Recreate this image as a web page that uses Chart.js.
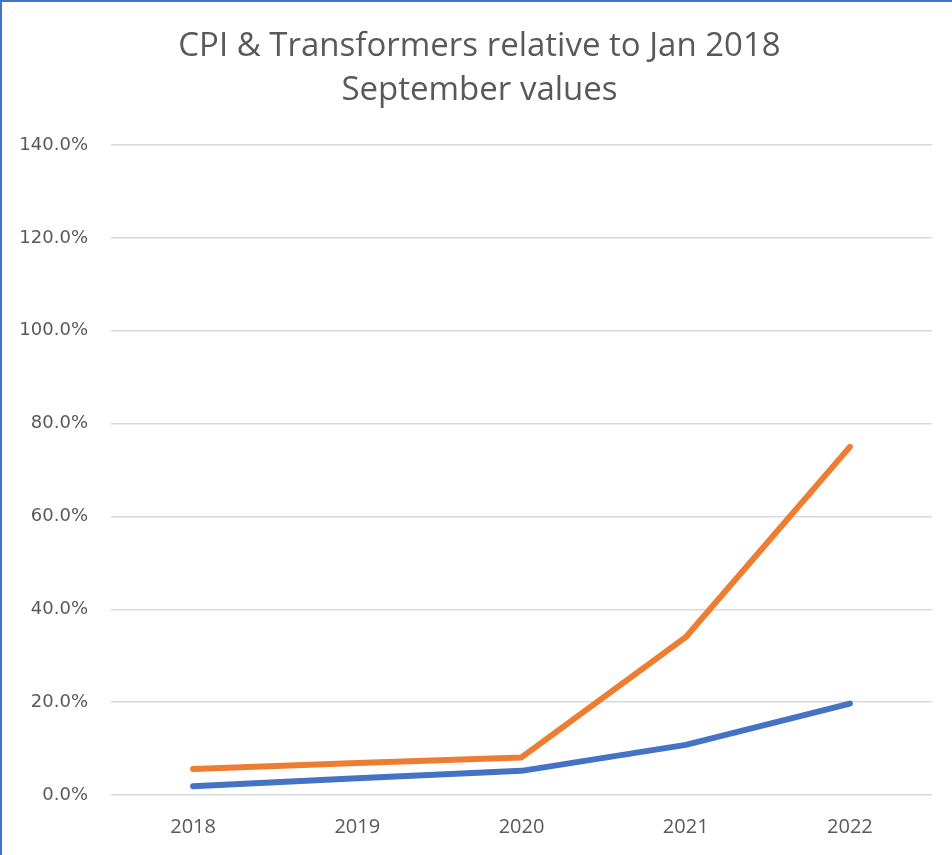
<!DOCTYPE html>
<html>
<head>
<meta charset="utf-8">
<script src="https://cdn.jsdelivr.net/npm/chart.js@4.4.1/dist/chart.umd.min.js"></script>
<style>
    html, body { margin: 0; padding: 0; background: #ffffff; }
    .frame {
        position: relative;
        width: 952px;
        height: 855px;
        box-sizing: border-box;
        border-top: 2px solid #4472C4;
        border-left: 2px solid #4472C4;
        overflow: hidden;
    }
    .frame canvas { position: absolute; left: -2px; top: -2px; }
</style>
</head>
<body>
<div class="frame">
    <canvas id="chart" width="959" height="855"></canvas>
</div>
<script>
// データ
const years = ['2018', '2019', '2020', '2021', '2022'];
const cpiValues = [1.9, 3.6, 5.2, 10.8, 19.7];
const transformerValues = [5.6, 6.9, 8.1, 34.0, 75.0];
const titleLines = ['CPI & Transformers relative to Jan 2018', 'September values'];

const textColor = '#595959';
const gridColor = '#D9D9D9';

const ctx = document.getElementById('chart').getContext('2d');
new Chart(ctx, {
    type: 'line',
    data: {
        labels: years,
        datasets: [
            {
                label: 'CPI',
                data: cpiValues,
                borderColor: '#4472C4',
                backgroundColor: '#4472C4',
                borderWidth: 6,
                borderCapStyle: 'round',
                borderJoinStyle: 'round',
                pointRadius: 0,
                tension: 0
            },
            {
                label: 'Transformers',
                data: transformerValues,
                borderColor: '#ED7D31',
                backgroundColor: '#ED7D31',
                borderWidth: 6,
                borderCapStyle: 'round',
                borderJoinStyle: 'round',
                pointRadius: 0,
                tension: 0
            }
        ]
    },
    options: {
        responsive: false,
        animation: false,
        layout: { padding: 0 },
        plugins: {
            legend: { display: false },
            tooltip: { enabled: false },
            title: {
                display: true,
                text: titleLines,
                color: textColor,
                font: { family: '"Open Sans", sans-serif', size: 33, weight: 'normal', lineHeight: 1.35 },
                padding: { top: 24, bottom: 32 }
            }
        },
        scales: {
            x: {
                offset: true,
                grid: { display: false, drawTicks: false },
                border: { display: false },
                ticks: {
                    color: textColor,
                    padding: 20,
                    font: { family: '"Open Sans", sans-serif', size: 20 }
                },
                afterFit: (scale) => { scale.height = 60; }
            },
            y: {
                min: 0,
                max: 140,
                grid: { color: gridColor, lineWidth: 1.5, drawTicks: false },
                border: { display: false },
                ticks: {
                    stepSize: 20,
                    color: textColor,
                    padding: 23,
                    font: { family: '"DejaVu Sans", sans-serif', size: 18 },
                    callback: (v) => v.toFixed(1) + '%'
                },
                afterFit: (scale) => { scale.width = 111; }
            },
            // 右側の余白用（表示なし）
            spacer: {
                type: 'linear',
                position: 'right',
                grid: { display: false, drawTicks: false },
                border: { display: false },
                ticks: { display: false },
                afterFit: (scale) => { scale.width = 27; }
            }
        }
    }
});
</script>
</body>
</html>
